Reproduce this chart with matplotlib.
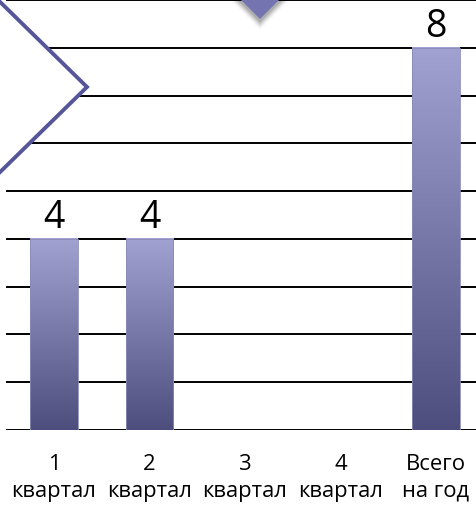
import numpy as np
import matplotlib
matplotlib.use("Agg")
import matplotlib.pyplot as plt
from matplotlib.patches import Polygon

plt.rcParams["font.family"] = ["Open Sans", "DejaVu Sans"]

categories = ["1\nквартал", "2\nквартал", "3\nквартал", "4\nквартал", "Всего\nна год"]
values = [4, 4, 0, 0, 8]
labels = ["4", "4", "", "", "8"]

W, H = 476, 510
fig = plt.figure(figsize=(W / 100, H / 100), dpi=100)

# axes placed in pixel units (right edge runs past the picture, like the crop)
left_px, right_px = 6.25, 483.75
bottom_px, top_px = 431, 1
ax = fig.add_axes([left_px / W, (H - bottom_px) / H,
                   (right_px - left_px) / W, (bottom_px - top_px) / H])

x = np.arange(len(categories))
bw = 0.5
bars = ax.bar(x, values, width=bw, color="none", zorder=2)

# vertical gradient for each bar: light lavender on top, dark navy at the bottom
cmap = matplotlib.colors.LinearSegmentedColormap.from_list("bar", ["#4e4e7e", "#a2a2d2"])
grad = np.linspace(0, 1, 256).reshape(-1, 1)
for bar in bars:
    h = bar.get_height()
    if h <= 0:
        continue
    x0 = bar.get_x()
    ax.imshow(grad, extent=(x0, x0 + bar.get_width(), 0, h), origin="lower",
              cmap=cmap, aspect="auto", zorder=2)
    ax.add_patch(plt.Rectangle((x0, 0), bar.get_width(), h, fill=False,
                               edgecolor="#8a8ab8", linewidth=0.6, zorder=3))

for xi, v, lab in zip(x, values, labels):
    if lab:
        ax.annotate(lab, (xi, v), xytext=(0, 2), textcoords="offset points",
                    ha="center", va="bottom", fontsize=27, color="black")

ax.set_xlim(-0.5, 4.5)
ax.set_ylim(0, 9)
ax.set_yticks(np.arange(0, 10, 1))
ax.yaxis.grid(True, color="black", linewidth=1.4)
ax.set_axisbelow(True)
ax.tick_params(axis="y", left=False, labelleft=False)
ax.set_xticks(x)
ax.set_xticklabels(categories, fontsize=15.8, linespacing=1.35)
ax.tick_params(axis="x", length=0, pad=16.5)
for s in ax.spines.values():
    s.set_visible(False)

# decorative shapes on top, in pixel coordinates
ov = fig.add_axes([0, 0, 1, 1], zorder=5)
ov.set_xlim(0, W)
ov.set_ylim(H, 0)
ov.axis("off")
ov.patch.set_alpha(0)

# soft shadow under the top triangle
for i, a in enumerate(np.linspace(0.10, 0.02, 6)):
    d = 1.5 + i * 1.5
    ov.add_patch(Polygon([(238 - d, 0), (282 + d, 0), (260, 22 + d)],
                         closed=True, facecolor="black", edgecolor="none", alpha=a))
ov.add_patch(Polygon([(240, 0), (280, 0), (260, 20)], closed=True,
                     facecolor="#7474b0", edgecolor="none"))

ov.add_patch(Polygon([(-5, -2), (87, 88), (-5, 178)], closed=True,
                     facecolor="white", edgecolor="#55559a", linewidth=2.8))

fig.savefig("out.png", dpi=100)
